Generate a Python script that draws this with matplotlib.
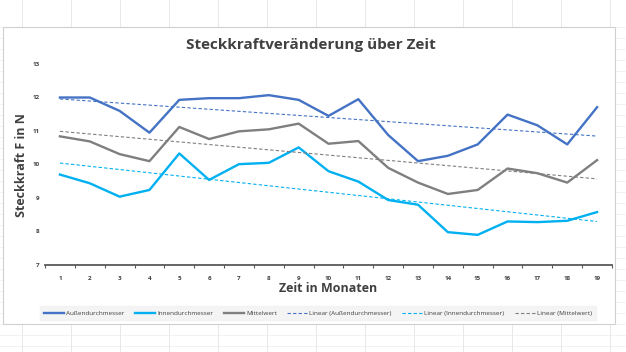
import numpy as np
import matplotlib.pyplot as plt
from matplotlib.patches import Rectangle
from matplotlib.lines import Line2D

months = list(range(1, 20))
aussen = [12.0, 12.0, 11.6, 10.95, 11.93, 11.98, 11.98, 12.07, 11.93, 11.45,
          11.95, 10.88, 10.1, 10.26, 10.6, 11.49, 11.17, 10.6, 11.71]
innen = [9.7, 9.44, 9.04, 9.24, 10.33, 9.54, 10.01, 10.05, 10.51, 9.8,
         9.49, 8.94, 8.8, 7.98, 7.9, 8.3, 8.28, 8.32, 8.58]
mittel = [10.84, 10.69, 10.31, 10.1, 11.12, 10.76, 10.99, 11.05, 11.22, 10.62,
          10.7, 9.9, 9.46, 9.12, 9.24, 9.88, 9.74, 9.46, 10.13]
y_ticks = [7, 8, 9, 10, 11, 12, 13]

series = [
    ("Außendurchmesser", aussen, "#4472C4"),
    ("Innendurchmesser", innen, "#00B0F0"),
    ("Mittelwert", mittel, "#7F7F7F"),
]

fig = plt.figure(figsize=(6.26, 3.52), dpi=100)
plt.rcParams['font.family'] = ['Open Sans', 'DejaVu Sans']

# faint spreadsheet grid behind the chart
for xg in np.arange(22, 626, 49):
    fig.add_artist(Line2D([xg / 626, xg / 626], [0, 1], color="#E4E4E4", lw=0.6, zorder=0))
for yg in np.arange(27, 352, 11):
    fig.add_artist(Line2D([0, 1], [1 - yg / 352, 1 - yg / 352], color="#EDEDED", lw=0.5, zorder=0))
fig.add_artist(Rectangle((3 / 626, 1 - 324 / 352), 612 / 626, 297 / 352,
                         facecolor="white", edgecolor="#D0D0D0", lw=0.8, zorder=1))

ax = fig.add_axes([45 / 626, 1 - 265 / 352, 567 / 626, 201 / 352])
ax.set_zorder(2)
ax.patch.set_alpha(0)

x = np.array(months)
handles = []
for name, vals, col in series:
    h, = ax.plot(x, vals, color=col, lw=1.7, label=name, solid_joinstyle="round")
    handles.append(h)
for name, vals, col in series:
    k, d = np.polyfit(x, vals, 1)
    h, = ax.plot(x, k * x + d, color=col, lw=0.8, ls=(0, (3, 2)), label=f"Linear ({name})")
    handles.append(h)

ax.set_xlim(0.5, 19.5)
ax.set_ylim(7, 13)
ax.set_yticks(y_ticks)
ax.set_xticks(months)
ax.set_xticks(np.arange(0.5, 20, 1), minor=True)
ax.tick_params(axis="x", which="major", length=0, labelsize=4.5, labelcolor="#404040", pad=8)
ax.tick_params(axis="x", which="minor", length=2.5, color="#595959", width=0.8)
ax.tick_params(axis="y", length=0, labelsize=4.5, labelcolor="#404040", pad=4)
for lab in ax.get_xticklabels() + ax.get_yticklabels():
    lab.set_fontweight("bold")
for s in ["top", "right", "left"]:
    ax.spines[s].set_visible(False)
ax.spines["bottom"].set_color("#595959")
ax.spines["bottom"].set_linewidth(1.3)

fig.text(311 / 626, 1 - 45 / 352, "Steckkraftveränderung über Zeit", ha="center", va="center",
         fontsize=11, fontweight="bold", color="#404040")
fig.text(22 / 626, 1 - 165 / 352, "Steckkraft F in N", ha="center", va="center", rotation=90,
         fontsize=9, fontweight="bold", color="#404040")
fig.text(328 / 626, 1 - 289 / 352, "Zeit in Monaten", ha="center", va="center",
         fontsize=9, fontweight="bold", color="#404040")

leg = fig.legend(handles=handles, loc="center", bbox_to_anchor=(318 / 626, 1 - 313 / 352),
                 ncol=6, fontsize=4.6, frameon=True, fancybox=False, handlelength=3.2,
                 columnspacing=1.6, handletextpad=0.3, borderpad=0.6)
leg.get_frame().set_facecolor("#F2F2F2")
leg.get_frame().set_edgecolor("#F2F2F2")
for t in leg.get_texts():
    t.set_color("#404040")

fig.savefig("out.png", dpi=100)
